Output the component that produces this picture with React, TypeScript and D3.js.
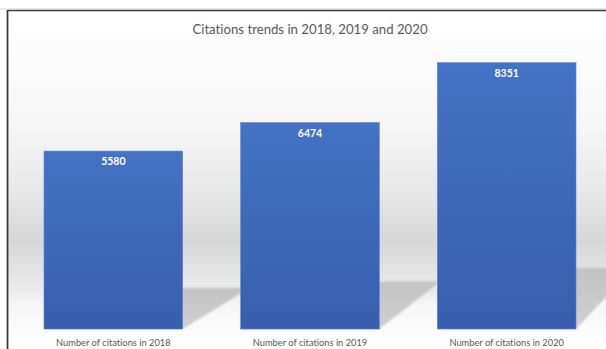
import React from "react";
import * as d3 from "d3";

const categories: string[] = [
  "Number of citations in 2018",
  "Number of citations in 2019",
  "Number of citations in 2020",
];
const citations: number[] = [5580, 6474, 8351];
const yDomainMax = 9000;
const title = "Citations trends in 2018, 2019 and 2020";

const W = 606;
const H = 349;
const BASE = 329;
const FONT = "Lato, 'Open Sans', 'Noto Sans', sans-serif";

export default function App() {
  const x = d3
    .scaleBand<string>()
    .domain(categories)
    .range([15, 605])
    .paddingInner(0.295)
    .paddingOuter(0.1475);
  const y = d3.scaleLinear().domain([0, yDomainMax]).range([BASE, 42]);

  // perspective shadow toward a vanishing point
  const vx = 1100;
  const vy = -230;
  const shadowRatio = 0.23;
  const shadowPath = (v: number, c: string) => {
    const left = x(c)!;
    const right = left + x.bandwidth();
    const h = BASE - y(v);
    const sh = h * shadowRatio;
    const t = sh / (BASE - vy);
    const ys = BASE - sh;
    const l2 = left + (vx - left) * t;
    const r2 = right + (vx - right) * t;
    return d3.line()([
      [left, BASE],
      [right, BASE],
      [r2, ys],
      [l2, ys],
    ]) + "Z";
  };

  return (
    <svg
      width={W}
      height={H}
      style={{ position: "fixed", left: 0, top: 0, display: "block" }}
    >
      <defs>
        <linearGradient id="bg" x1="0" y1="11" x2="0" y2={H} gradientUnits="userSpaceOnUse">
          <stop offset="0" stopColor="#ffffff" />
          <stop offset="0.35" stopColor="#f6f6f6" />
          <stop offset="0.55" stopColor="#e6e6e6" />
          <stop offset="0.68" stopColor="#d7d7d7" />
          <stop offset="0.82" stopColor="#eaeaea" />
          <stop offset="0.87" stopColor="#f6f6f6" />
          <stop offset="1" stopColor="#ffffff" />
        </linearGradient>
        <linearGradient id="bar" x1="0" y1="0" x2="0" y2="1">
          <stop offset="0" stopColor="#4472c4" />
          <stop offset="1" stopColor="#375fae" />
        </linearGradient>
        <linearGradient id="shadow" x1="0" y1="0" x2="0" y2="1">
          <stop offset="0" stopColor="#c3c3c3" />
          <stop offset="1" stopColor="#cfcfcf" />
        </linearGradient>
        <filter id="blur" x="-10%" y="-10%" width="120%" height="120%">
          <feGaussianBlur stdDeviation="0.8" />
        </filter>
      </defs>
      <rect x={0} y={0} width={W} height={H} fill="#ffffff" />
      <rect x={8} y={11} width={W - 8} height={H - 11} fill="url(#bg)" />

      <g>
        {citations.map((v, i) => (
          <path
            key={"s" + i}
            d={shadowPath(v, categories[i])}
            fill="url(#shadow)"
            filter="url(#blur)"
          />
        ))}
      </g>

      <g>
        {citations.map((v, i) => (
          <rect
            key={"b" + i}
            x={x(categories[i])!}
            y={y(v)}
            width={x.bandwidth()}
            height={BASE - y(v)}
            fill="url(#bar)"
            stroke="#5b84cf"
            strokeWidth={0.6}
          />
        ))}
      </g>

      <g fontFamily={FONT} style={{ fontVariantLigatures: "none" }}>
        {citations.map((v, i) => (
          <text
            key={"v" + i}
            x={x(categories[i])! + x.bandwidth() / 2}
            y={y(v) + 14}
            textAnchor="middle"
            fill="#ffffff"
            fontWeight="bold"
            fontSize={10.5}
          >
            {v}
          </text>
        ))}
        {categories.map((c, i) => (
          <text
            key={"c" + i}
            x={x(c)! + x.bandwidth() / 2}
            y={345.5}
            textAnchor="middle"
            fill="#595959"
            fontSize={9.3}
          >
            {c}
          </text>
        ))}
        <text
          x={310}
          y={34}
          textAnchor="middle"
          fill="#595959"
          fontSize={13.2}
        >
          {title}
        </text>
      </g>

      <line x1={7.5} y1={10.5} x2={W} y2={10.5} stroke="#3c3c3c" strokeWidth={1.6} />
      <line x1={7.5} y1={10} x2={7.5} y2={H} stroke="#3c3c3c" strokeWidth={1.8} />
      <line x1={0} y1={9} x2={W} y2={9} stroke="#c8c8c8" strokeWidth={0.8} />
    </svg>
  );
}
